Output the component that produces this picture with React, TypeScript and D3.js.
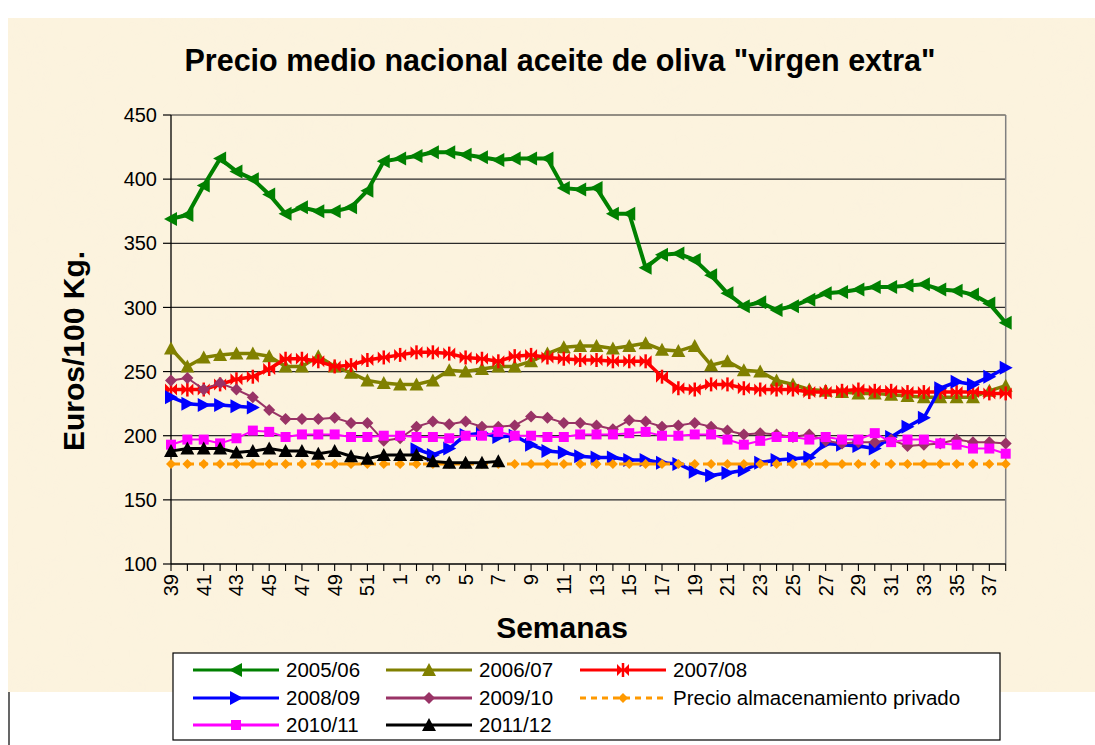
import React from 'react';
import * as d3 from 'd3';

const weeks = [39, 40, 41, 42, 43, 44, 45, 46, 47, 48, 49, 50, 51, 52, 1, 2, 3, 4, 5, 6, 7, 8, 9, 10, 11, 12, 13, 14, 15, 16, 17, 18, 19, 20, 21, 22, 23, 24, 25, 26, 27, 28, 29, 30, 31, 32, 33, 34, 35, 36, 37, 38];

const s2005 = [369, 372, 395, 416, 406, 400, 388, 373, 378, 375, 375, 378, 391, 414, 416, 418, 421, 421,
  419, 417, 415, 416, 416, 416, 393, 392, 393, 373, 373, 331, 341, 342, 337, 325, 311,
  301, 304, 298, 301, 306, 311, 312, 314, 316, 316, 317, 318, 314, 313, 310, 303, 288];
const s2006 = [268, 254, 261, 263, 264, 264, 262, 254, 254, 262, 254, 249, 243, 241, 240, 240, 243, 251,
  250, 252, 254, 254, 258, 264, 269, 270, 270, 268, 270, 272, 267, 266, 270, 255, 258,
  251, 250, 243, 240, 236, 235, 234, 233, 233, 232, 231, 230, 230, 230, 230, 235, 239];
const s2007 = [236, 236, 236, 240, 244, 246, 252, 260, 260, 258, 254, 255, 259, 261, 263, 265, 265, 264,
  261, 260, 258, 262, 263, 261, 260, 259, 259, 258, 258, 258, 246, 237, 236, 240, 240,
  237, 236, 236, 236, 234, 234, 235, 236, 235, 235, 234, 234, 234, 234, 234, 233, 233];
const s2008 = [230, 225, 224, 224, 223, 222, null, null, null, null, null, null, null, null, null, 189.5, 185, 190,
  200.6, 202, 199, 200, 193, 188, 187, 184, 183, 183, 181, 181, 179, 178, 172, 169, 171,
  173, 179, 181, 182, 183, 194, 193, 192, 190, 199, 207, 214, 237, 242, 240, 246, 253];
const s2009 = [243, 245, 236, 241, 236, 230, 220, 213, 213, 213, 214, 210, 210, 196, 198, 207, 211, 209,
  211, 207, 207, 208, 215, 214, 210, 210, 208, 205, 212, 211, 207, 208, 210, 207, 204,
  201, 202, 201, 199, 201, 196, 194, 195, 195, 197, 192, 193, 194, 197, 195, 195, 194];
const s2010 = [193, 197, 197, 194, 198, 204, 203, 199, 201, 201, 201, 199, 199, 200, 200, 199, 199, 198,
  200, 200, 203, 200, 200, 199, 199, 201, 201, 201, 202, 203, 200, 200, 201, 201, 197,
  193, 196, 199, 199, 197, 199, 197, 197, 202, 195, 197, 197, 194, 193, 190, 190, 186];
const s2011 = [188, 190, 190, 190, 187, 188, 190, 188, 188, 186, 188, 184, 182, 185, 185, 185, 180, 179, 179, 179, 180,
  null, null, null, null, null, null, null, null, null, null, null, null, null, null, null, null,
  null, null, null, null, null, null, null, null, null, null, null, null, null, null, null];
const sPrivate = [177.9, 177.9, 177.9, 177.9, 177.9, 177.9, 177.9, 177.9, 177.9, 177.9, 177.9, 177.9, 177.9,
  177.9, 177.9, 177.9, 177.9, 177.9, 177.9, 177.9, 177.9, 177.9, 177.9, 177.9, 177.9, 177.9,
  177.9, 177.9, 177.9, 177.9, 177.9, 177.9, 177.9, 177.9, 177.9, 177.9, 177.9, 177.9, 177.9,
  177.9, 177.9, 177.9, 177.9, 177.9, 177.9, 177.9, 177.9, 177.9, 177.9, 177.9, 177.9, 177.9];

const yTicks = [100, 150, 200, 250, 300, 350, 400, 450];

const seriesNames = ['2005/06', '2006/07', '2007/08', '2008/09', '2009/10', 'Precio almacenamiento privado', '2010/11', '2011/12'];

const M = {
  triLeft: 'M-7,0 L6,-7 L6,7 Z',
  triRight: 'M7,0 L-6,-7 L-6,7 Z',
  triUp: 'M0,-7 L7,6 L-7,6 Z',
  diamond: 'M0,-6 L6,0 L0,6 L-6,0 Z',
  square: 'M-5,-5 H5 V5 H-5 Z',
  bowtie: 'M-6,-6 L0,0 L-6,6 Z M6,-6 L0,0 L6,6 Z',
  smallDiamond: 'M0,-5 L5,0 L0,5 L-5,0 Z',
};

type S = { name: string; data: (number | null)[]; color: string; width: number; marker: string; dash?: string; star?: boolean };

const series: S[] = [
  { name: seriesNames[0], data: s2005, color: '#008000', width: 4, marker: M.triLeft },
  { name: seriesNames[1], data: s2006, color: '#808000', width: 3.5, marker: M.triUp },
  { name: seriesNames[2], data: s2007, color: '#FF0000', width: 3.5, marker: M.bowtie, star: true },
  { name: seriesNames[3], data: s2008, color: '#0000FF', width: 3.5, marker: M.triRight },
  { name: seriesNames[4], data: s2009, color: '#993366', width: 2, marker: M.diamond },
  { name: seriesNames[5], data: sPrivate, color: '#FF9900', width: 3, marker: M.smallDiamond, dash: '9,5' },
  { name: seriesNames[6], data: s2010, color: '#FF00FF', width: 2, marker: M.square },
  { name: seriesNames[7], data: s2011, color: '#000000', width: 3, marker: M.triUp },
];

const PL = 171, PR = 1005.7, PT = 115, PB = 564;
const FONT = '"Liberation Sans", Arial, sans-serif';

export default function App() {
  const x = d3.scalePoint<string>().domain(weeks.map(String)).range([PL, PR]);
  const y = d3.scaleLinear().domain([100, 450]).range([PB, PT]);
  const xs = (i: number) => x(String(weeks[i])) as number;

  const mkLine = (vals: (number | null)[]) =>
    d3.line<number | null>()
      .defined((v) => v != null)
      .x((_, i) => xs(i))
      .y((v) => y(v as number))(vals) || '';

  const drawMarker = (s: S, cx: number, cy: number, key: string) => (
    <g key={key} transform={`translate(${cx},${cy})`}>
      <path d={s.marker} fill={s.color} />
      {s.star && <line x1={0} y1={-7} x2={0} y2={7} stroke={s.color} strokeWidth={2.5} />}
    </g>
  );

  const legendCols = [193, 386, 580];
  const legendRows = [670, 698, 725];
  const legendPos = [
    [0, 0], [1, 0], [2, 0],
    [0, 1], [1, 1], [2, 1],
    [0, 2], [1, 2],
  ];

  return (
    <svg width={1095} height={745} style={{ position: 'absolute', left: 0, top: 0, display: 'block' }} fontFamily={FONT}>
      <defs>
        <filter id="paper" x="0" y="0" width="100%" height="100%">
          <feTurbulence type="fractalNoise" baseFrequency="0.02" numOctaves={3} seed={7} result="n" />
          <feColorMatrix in="n" type="matrix"
            values="0 0 0 0 0.95  0 0 0 0 0.89  0 0 0 0 0.74  0 0 0 -1.4 0.95" />
        </filter>
      </defs>
      <rect x={0} y={0} width={1095} height={745} fill="#ffffff" />
      <rect x={8} y={18} width={1087} height={674} fill="#FCF3DE" />
      <rect x={8} y={18} width={1087} height={674} filter="url(#paper)" opacity={0.22} />
      <line x1={9} y1={692} x2={9} y2={745} stroke="#000" strokeWidth={1.2} />

      <text x={560} y={71} textAnchor="middle" fontSize={30.5} fontWeight="bold" fill="#000">
        Precio medio nacional aceite de oliva "virgen extra"
      </text>

      {yTicks.filter((t) => t > 100).map((t) => (
        <line key={t} x1={PL} x2={PR} y1={y(t)} y2={y(t)} stroke="#2a2a2a" strokeWidth={1.2} />
      ))}
      <line x1={PR} x2={PR} y1={PT} y2={PB} stroke="#808080" strokeWidth={1.5} />

      <line x1={PL} x2={PL} y1={PT} y2={PB} stroke="#000" strokeWidth={1.3} />
      <line x1={PL} x2={PR} y1={PB} y2={PB} stroke="#000" strokeWidth={1.3} />
      {yTicks.map((t) => (
        <g key={t}>
          <line x1={PL - 8} x2={PL} y1={y(t)} y2={y(t)} stroke="#000" strokeWidth={1.2} />
          <text x={157} y={y(t)} dy="0.36em" textAnchor="end" fontSize={20} fill="#000">{t}</text>
        </g>
      ))}
      {weeks.map((w, i) => (
        <g key={i}>
          <line x1={xs(i)} x2={xs(i)} y1={PB} y2={PB + 7} stroke="#000" strokeWidth={1.1} />
          {i % 2 === 0 && (
            <text transform={`translate(${xs(i) + 7},${574}) rotate(-90)`} textAnchor="end" fontSize={20} fill="#000">{w}</text>
          )}
        </g>
      ))}

      <text transform={`translate(84,351) rotate(-90)`} textAnchor="middle" fontSize={30} fontWeight="bold" fill="#000">Euros/100 Kg.</text>
      <text x={562} y={638} textAnchor="middle" fontSize={30} fontWeight="bold" fill="#000">Semanas</text>

      {series.map((s, si) => (
        <g key={si}>
          <path d={mkLine(s.data)} fill="none" stroke={s.color} strokeWidth={s.width} strokeDasharray={s.dash} strokeLinejoin="round" />
          {s.data.map((v, i) => (v == null ? null : drawMarker(s, xs(i), y(v), `${si}-${i}`)))}
        </g>
      ))}

      <rect x={173} y={653} width={827} height={87} fill="#ffffff" stroke="#000" strokeWidth={1.2} />
      {series.map((s, si) => {
        const [c, r] = legendPos[si];
        const lx = legendCols[c];
        const ly = legendRows[r];
        return (
          <g key={si}>
            <line x1={lx} x2={lx + 86} y1={ly} y2={ly} stroke={s.color} strokeWidth={3} strokeDasharray={s.dash ? '6,5' : undefined} />
            {drawMarker(s, lx + 43, ly, `lg${si}`)}
            <text x={lx + 93} y={ly} dy="0.36em" fontSize={20.5} fill="#000">{s.name}</text>
          </g>
        );
      })}
    </svg>
  );
}
